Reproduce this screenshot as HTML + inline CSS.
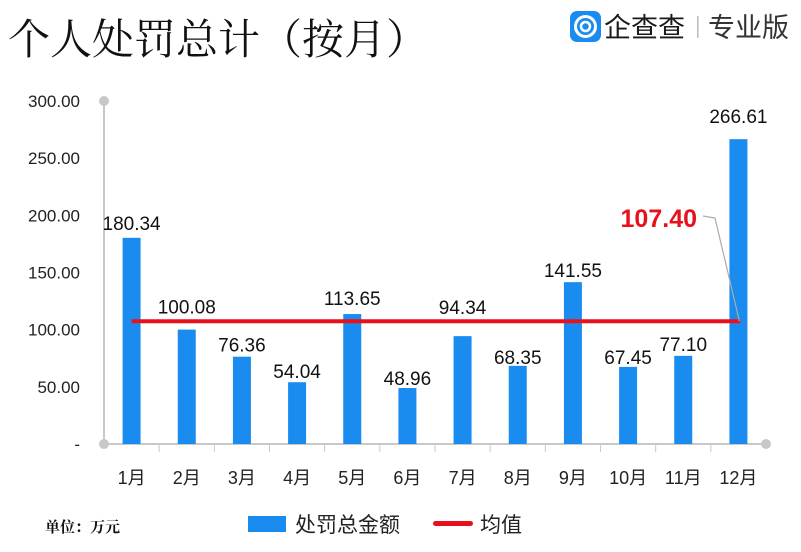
<!DOCTYPE html>
<html><head><meta charset="utf-8"><style>
body{margin:0;background:#fff;width:801px;height:547px;overflow:hidden}
svg text{font-family:"Liberation Sans","Noto Sans CJK SC",sans-serif}
svg text.serif{font-family:"Noto Serif CJK SC","Liberation Serif",serif}
</style></head><body>
<svg width="801" height="547">
<text class="serif" x="8" y="54" font-size="42" fill="#111">个人处罚总计（按月）</text>
<g>
<rect x="570" y="11" width="31" height="31" rx="7" fill="#1a8cf0"/>
<circle cx="585.5" cy="26.5" r="10" fill="none" stroke="#fff" stroke-width="3"/>
<circle cx="585.5" cy="26.5" r="4.5" fill="none" stroke="#fff" stroke-width="2.5"/>
<text x="604" y="37" font-size="27" fill="#1a1a1a">企查查</text>
<rect x="697" y="16" width="1.5" height="22" fill="#bbb"/>
<text x="708" y="37" font-size="27" fill="#333">专业版</text>
</g>
<g id="axes"></g><g id="bars"></g><g id="labels"></g>
<g>
<text class="serif" x="45" y="532" font-size="15" font-weight="bold" fill="#111">单位：万元</text>
<rect x="248" y="516" width="38" height="16" fill="#1a8cf0"/>
<text x="295" y="532" font-size="21" fill="#222">处罚总金额</text>
<rect x="433" y="521" width="40" height="5" rx="2.5" fill="#e8101a"/>
<text x="480" y="532" font-size="21" fill="#222">均值</text>
</g>
</svg>
<script>
const categories=["1月","2月","3月","4月","5月","6月","7月","8月","9月","10月","11月","12月"];
const values=[180.34,100.08,76.36,54.04,113.65,48.96,94.34,68.35,141.55,67.45,77.10,266.61];
const meanValue=107.40;
const yTicks=[0,50,100,150,200,250,300];
const yTickLabels=["-","50.00","100.00","150.00","200.00","250.00","300.00"];
const labelRaise=[15,23,12,11,16,10,29,9,12,10,12,23];
const NS="http://www.w3.org/2000/svg";
const x0=104,x1=766,y0=444,yTop=101,band=(x1-x0)/categories.length,bw=18;
const y=v=>y0-(v/300)*(y0-yTop);
const cx=i=>x0+band*(i+0.5);
function mk(t,a,p){const e=document.createElementNS(NS,t);for(const k in a)e.setAttribute(k,a[k]);p.appendChild(e);return e;}
const ax=document.getElementById('axes'),bg=document.getElementById('bars'),lg=document.getElementById('labels');
let e=mk('line',{x1:x0,y1:y0,x2:x0,y2:yTop,stroke:'#c8c8c8','stroke-width':2},ax);


e=mk('line',{x1:x0,y1:y0,x2:x1,y2:y0,stroke:'#c8c8c8','stroke-width':2},ax);


[[x0,y0],[x0,yTop],[x1,y0]].forEach(p=>{const c=mk('circle',{cx:p[0],cy:p[1],r:5,fill:'#c8c8c8'},ax);

});
yTicks.forEach((t,i)=>{const tx=mk('text',{x:80,y:y(t)+6,'font-size':17,'text-anchor':'end',fill:'#222'},ax);tx.textContent=yTickLabels[i];

});
for(let i=1;i<categories.length;i++){const l=mk('line',{x1:x0+band*i,y1:y0,x2:x0+band*i,y2:y0+8,stroke:'#c8c8c8','stroke-width':1},ax);

}
categories.forEach((c,i)=>{
const r=mk('rect',{x:cx(i)-bw/2,y:y(values[i]),width:bw,height:y0-y(values[i]),fill:'#1a8cf0'},bg);


const t=mk('text',{x:cx(i),y:484,'font-size':18,'text-anchor':'middle',fill:'#222'},lg);t.textContent=c;


const v=mk('text',{x:cx(i),y:y(values[i])-labelRaise[i]+7,'font-size':19,'text-anchor':'middle',fill:'#111'},lg);v.textContent=values[i].toFixed(2);

});
const ml=mk('line',{x1:cx(0),y1:y(meanValue),x2:cx(11)+2,y2:y(meanValue),stroke:'#e8101a','stroke-width':4},lg);


const ld=mk('polyline',{points:`703,216 715,218 ${cx(11)+1},${y(meanValue)}`,fill:'none',stroke:'#aaa','stroke-width':1.2},lg);


const mt=mk('text',{x:697,y:227,'font-size':25,'font-weight':'bold','text-anchor':'end',fill:'#e8101a'},lg);mt.textContent=meanValue.toFixed(2);


</script>
</body></html>
